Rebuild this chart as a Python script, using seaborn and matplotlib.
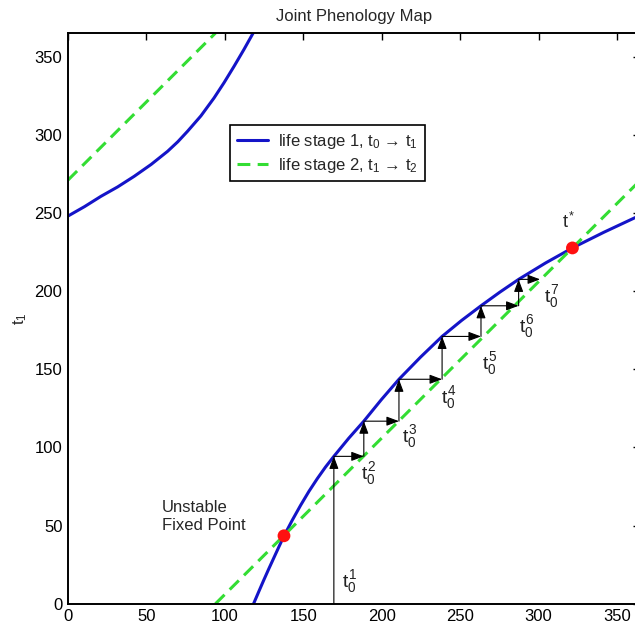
import matplotlib
matplotlib.use("Agg")
import matplotlib.pyplot as plt
import seaborn as sns

# ---- data ----
stage1_lower_x = [118.3, 121.5, 124.7, 127.9, 131.1, 134.4, 137.7, 143.0, 148.3, 153.6,
                  158.9, 164.2, 169.5, 179.0, 188.6, 199.8, 211.0, 224.8, 238.5, 250.9,
                  263.3, 275.3, 287.3, 304.5, 321.6, 341.6, 361.6, 365.0]
stage1_lower_y = [0.0, 7.5, 14.9, 22.1, 29.1, 36.3, 43.4, 53.5, 63.0, 71.9,
                  80.0, 87.5, 94.3, 105.9, 116.8, 130.6, 143.6, 157.8, 171.0, 181.2,
                  190.6, 199.3, 207.5, 218.0, 227.6, 237.6, 247.0, 248.6]
stage1_upper_x = [0.0, 10.5, 21.0, 31.6, 42.2, 53.0, 63.5, 70.0, 76.2, 84.7,
                  93.1, 99.5, 105.9, 112.1, 118.3]
stage1_upper_y = [248.0, 254.0, 260.6, 266.6, 273.4, 281.0, 289.4, 295.5, 302.2, 312.0,
                  323.5, 333.3, 343.8, 354.4, 365.5]

stage2_lower_x = [94.0, 365.0]
stage2_lower_y = [0.0, 271.0]
stage2_upper_x = [0.0, 94.0]
stage2_upper_y = [271.0, 365.0]

fixed_x = [137.7, 321.6]
fixed_y = [43.5, 227.6]

cobweb_x = [169.5, 188.6, 211.0, 238.5, 263.3, 287.3, 301.0]
cobweb_y = [94.3, 116.8, 143.6, 171.0, 190.6, 207.5]

label_x = [179.8, 191.4, 218.0, 242.5, 269.0, 292.4, 308.4]
label_y = [14.1, 83.5, 106.9, 132.0, 153.8, 177.0, 196.4]

ticks = [0, 50, 100, 150, 200, 250, 300, 350]

BLUE = "#1414c8"
GREEN = "#33dd33"

sns.set_theme(style="white")
plt.rcParams["font.family"] = ["Liberation Sans", "DejaVu Sans"]
plt.rcParams["mathtext.fontset"] = "custom"
plt.rcParams["mathtext.rm"] = "Liberation Sans"
plt.rcParams["mathtext.it"] = "Liberation Sans"
plt.rcParams["mathtext.bf"] = "Liberation Sans:bold"

fig = plt.figure(figsize=(6.35, 6.27), dpi=100)
ax = fig.add_axes([68 / 635, (627 - 603.8) / 627, 572.5 / 635, 570.7 / 627])

sns.lineplot(x=stage1_lower_x, y=stage1_lower_y, sort=False, estimator=None,
             color=BLUE, lw=2.2, ax=ax, label=r"life stage 1, $t_0$ → $t_1$")
sns.lineplot(x=stage1_upper_x, y=stage1_upper_y, sort=False, estimator=None,
             color=BLUE, lw=2.2, ax=ax)
sns.lineplot(x=stage2_lower_x, y=stage2_lower_y, sort=False, estimator=None,
             color=GREEN, lw=2.2, ax=ax, label=r"life stage 2, $t_1$ → $t_2$")
ax.lines[-1].set_dashes([4.2, 2.4])
sns.lineplot(x=stage2_upper_x, y=stage2_upper_y, sort=False, estimator=None,
             color=GREEN, lw=2.2, ax=ax)
ax.lines[-1].set_dashes([4.2, 2.4])

# cobweb arrows
aprops = dict(arrowstyle="-|>,head_length=0.75,head_width=0.28", lw=0.8,
              color="black", shrinkA=0, shrinkB=0, mutation_scale=10)
prev = 0.0
for i, yv in enumerate(cobweb_y):
    xv = cobweb_x[i]
    ax.annotate("", xy=(xv, yv), xytext=(xv, prev), arrowprops=aprops, zorder=3)
    ax.annotate("", xy=(cobweb_x[i + 1], yv), xytext=(xv, yv), arrowprops=aprops, zorder=3)
    prev = yv

for i, (lx, ly) in enumerate(zip(label_x, label_y)):
    ax.text(lx, ly, r"$t_0^{%d}$" % (i + 1), fontsize=14, ha="center", va="center",
            color="#222222")

sns.scatterplot(x=fixed_x, y=fixed_y, color="#ff1010", s=85, edgecolor="none",
                zorder=6, ax=ax, legend=False)

ax.text(319, 244.4, r"$t^{*}$", fontsize=13, ha="center", va="center")
ax.text(59.7, 55.7, "Unstable\nFixed Point", fontsize=12, ha="left", va="center",
        linespacing=1.25)

ax.set_xlim(0, 365)
ax.set_ylim(0, 365)
ax.set_xticks(ticks)
ax.set_yticks(ticks)
ax.set_xticklabels([str(t) for t in ticks])
ax.set_yticklabels([str(t) for t in ticks])
ax.tick_params(direction="in", length=4.8, width=1.0, top=True, right=True,
               labelsize=12, colors="black", pad=4)
for s in ax.spines.values():
    s.set_color("black")
    s.set_linewidth(1.4)

ax.set_title("Joint Phenology Map", fontsize=12, pad=9)
ax.set_ylabel(r"$t_1$", fontsize=12, labelpad=4)
ax.set_xlabel("")

leg = ax.legend(loc="upper left", bbox_to_anchor=(0.283, 0.839), borderaxespad=0,
                fontsize=12, frameon=True, fancybox=False, edgecolor="black",
                handlelength=1.9, handletextpad=0.6, labelspacing=0.3,
                borderpad=0.4)
leg.get_frame().set_linewidth(1.2)
leg.get_frame().set_alpha(1)

fig.savefig("out.png", dpi=100)
